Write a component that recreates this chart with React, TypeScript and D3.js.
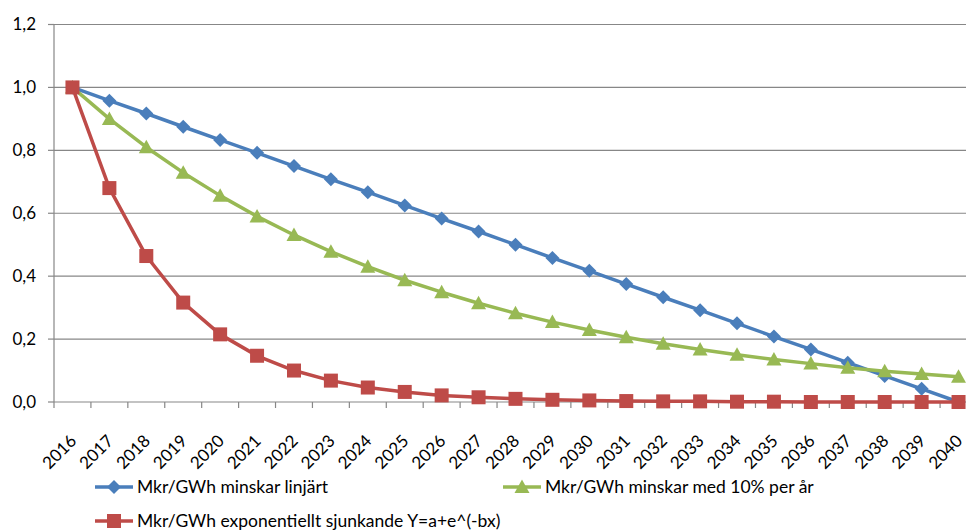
import React from "react";
import * as d3 from "d3";

// år och serier
const years = [
  "2016", "2017", "2018", "2019", "2020", "2021", "2022", "2023", "2024",
  "2025", "2026", "2027", "2028", "2029", "2030", "2031", "2032", "2033",
  "2034", "2035", "2036", "2037", "2038", "2039", "2040",
];

const linear = [
  1.0, 0.958, 0.917, 0.875, 0.833, 0.792, 0.75, 0.708, 0.667, 0.625, 0.583,
  0.542, 0.5, 0.458, 0.417, 0.375, 0.333, 0.292, 0.25, 0.208, 0.167, 0.125,
  0.083, 0.042, 0.0,
];

const tenPercent = [
  1.0, 0.9, 0.81, 0.729, 0.656, 0.59, 0.531, 0.478, 0.43, 0.387, 0.349, 0.314,
  0.282, 0.254, 0.229, 0.206, 0.185, 0.167, 0.15, 0.135, 0.122, 0.109, 0.098,
  0.089, 0.08,
];

const exponential = [
  1.0, 0.68, 0.464, 0.316, 0.215, 0.147, 0.1, 0.068, 0.046, 0.032, 0.021,
  0.015, 0.01, 0.007, 0.005, 0.003, 0.002, 0.002, 0.001, 0.001, 0.0, 0.0, 0.0,
  0.0, 0.0,
];

const yTicks = [0, 0.2, 0.4, 0.6, 0.8, 1.0, 1.2];

const seriesNames = [
  "Mkr/GWh minskar linjärt",
  "Mkr/GWh minskar med 10% per år",
  "Mkr/GWh exponentiellt sjunkande Y=a+e^(-bx)",
];

const colors = ["#4A7EBB", "#98B954", "#BE4B48"];
const markers = ["diamond", "triangle", "square"];

const width = 966;
const height = 530;
const margin = { top: 24.5, right: -10, bottom: 128, left: 54 };
const font = "Lato, 'Open Sans', sans-serif";

function markerPath(kind: string, cx: number, cy: number) {
  if (kind === "diamond") {
    const r = 7;
    return `M${cx},${cy - r}L${cx + r},${cy}L${cx},${cy + r}L${cx - r},${cy}Z`;
  }
  if (kind === "triangle") {
    const w = 7.5;
    return `M${cx},${cy - 7.5}L${cx + w},${cy + 6}L${cx - w},${cy + 6}Z`;
  }
  const s = 7;
  return `M${cx - s},${cy - s}h${2 * s}v${2 * s}h${-2 * s}Z`;
}

const App: React.FC = () => {
  const x = d3
    .scaleBand()
    .domain(years)
    .range([margin.left, margin.left + 36.92 * years.length]);

  const y = d3
    .scaleLinear()
    .domain([0, 1.2])
    .range([height - margin.bottom, margin.top]);

  const cx = (yr: string) => (x(yr) ?? 0) + x.bandwidth() / 2;

  const series = [linear, tenPercent, exponential];

  const line = d3
    .line<number>()
    .x((_, i) => cx(years[i]))
    .y((d) => y(d));

  const y0 = y(0);

  return (
    <svg
      width={width}
      height={height}
      style={{ position: "absolute", left: 0, top: 0, background: "#fff" }}
    >
      {/* stödlinjer */}
      {yTicks.map((t) => (
        <g key={t}>
          {t > 0 && (
            <line
              x1={margin.left}
              x2={width}
              y1={y(t)}
              y2={y(t)}
              stroke="#878787"
              strokeWidth={1.2}
            />
          )}
          <line
            x1={margin.left - 6}
            x2={margin.left}
            y1={y(t)}
            y2={y(t)}
            stroke="#878787"
            strokeWidth={1.2}
          />
          <text
            x={margin.left - 18}
            y={y(t)}
            dy="0.35em"
            textAnchor="end"
            fontFamily={font}
            fontSize={17}
            fill="#000"
          >
            {d3.format(".1f")(t).replace(".", ",")}
          </text>
        </g>
      ))}

      {/* axlar */}
      <line
        x1={margin.left}
        x2={margin.left}
        y1={y(1.2)}
        y2={y0}
        stroke="#878787"
        strokeWidth={1.2}
      />
      <line
        x1={margin.left}
        x2={width}
        y1={y0}
        y2={y0}
        stroke="#878787"
        strokeWidth={1.2}
      />
      {years.map((yr) => (
        <line
          key={"t" + yr}
          x1={x(yr)}
          x2={x(yr)}
          y1={y0}
          y2={y0 + 6}
          stroke="#878787"
          strokeWidth={1.2}
        />
      ))}
      {years.map((yr) => (
        <text
          key={"l" + yr}
          transform={`translate(${cx(yr) + 5},${y0 + 40}) rotate(-45)`}
          textAnchor="end"
          fontFamily={font}
          fontSize={17}
          fill="#000"
        >
          {yr}
        </text>
      ))}

      {/* serier */}
      {series.map((s, si) => (
        <g key={"s" + si}>
          <path
            d={line(s) ?? ""}
            fill="none"
            stroke={colors[si]}
            strokeWidth={3.5}
            strokeLinejoin="round"
          />
          {s.map((v, i) => (
            <path
              key={i}
              d={markerPath(markers[si], cx(years[i]), y(v))}
              fill={colors[si]}
            />
          ))}
        </g>
      ))}

      {/* förklaring */}
      {seriesNames.map((name, i) => {
        const lx = i === 1 ? 503 : 95;
        const ly = i === 2 ? 521 : 487;
        return (
          <g key={"lg" + i}>
            <line
              x1={lx}
              x2={lx + 38}
              y1={ly}
              y2={ly}
              stroke={colors[i]}
              strokeWidth={3.5}
            />
            <path d={markerPath(markers[i], lx + 19, ly)} fill={colors[i]} />
            <text
              x={lx + 42}
              y={ly}
              dy="0.35em"
              fontFamily={font}
              fontSize={17.5}
              fill="#000"
            >
              {name}
            </text>
          </g>
        );
      })}
    </svg>
  );
};

export default App;
